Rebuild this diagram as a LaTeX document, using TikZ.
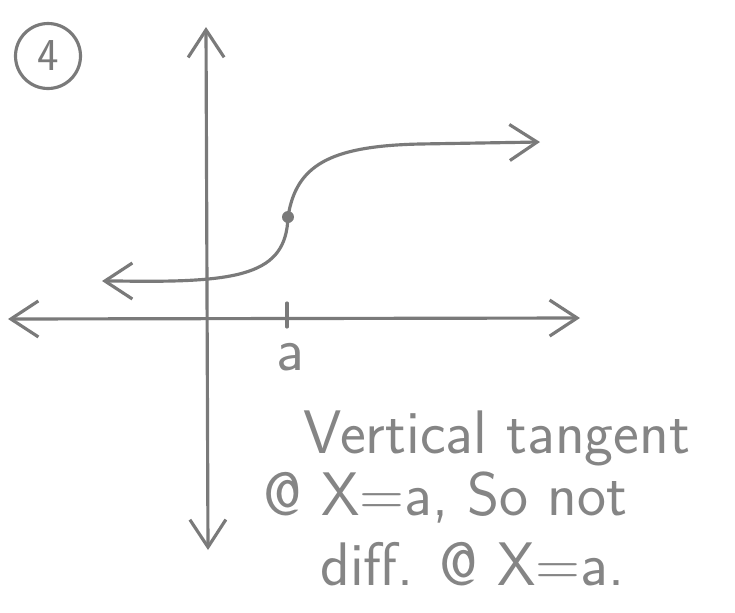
\documentclass[tikz,border=0pt]{standalone}
\usetikzlibrary{arrows.meta}
\begin{document}
\begin{tikzpicture}[
  x=0.02cm,y=-0.02cm,
  >={Straight Barb[length=0.55cm,width=0.72cm]},
  pencil/.style={black!52,line width=1.8pt,line cap=round},
  note/.style={black!48,anchor=base west,inner sep=0pt,
    font=\sffamily\fontsize{35}{40}\selectfont}
]
  \useasboundingbox (0,0) rectangle (735,613);
  \node[pencil,draw,circle,minimum size=1.3cm,inner sep=0pt,
    font=\sffamily\fontsize{26}{30}\selectfont] (num) at (48,56) {4};

  % axes
  \draw[pencil,<->] (206,27) -- (208,550);
  \draw[pencil,<->] (8,319) -- (580,318);
  \draw[pencil] (287,303) -- (287,327);
  \node[note,anchor=base] (a) at (290,370) {a};

  % the curve, vertical at x=a
  \draw[pencil,<->] (102,281) -- (118,281)
    .. controls (240,283) and (286,275) .. (288,217)
    .. controls (296,165) and (330,146) .. (420,144) -- (540,142);
  \fill[black!52] (288,217) circle (6);

  \node[note] (l1) at (303,453) {Vertical tangent};
  \node[note] (l2) at (263,515) {@ X=a, So not};
  \node[note] (l3) at (320,585) {diff. @ X=a.};
\end{tikzpicture}
\end{document}
